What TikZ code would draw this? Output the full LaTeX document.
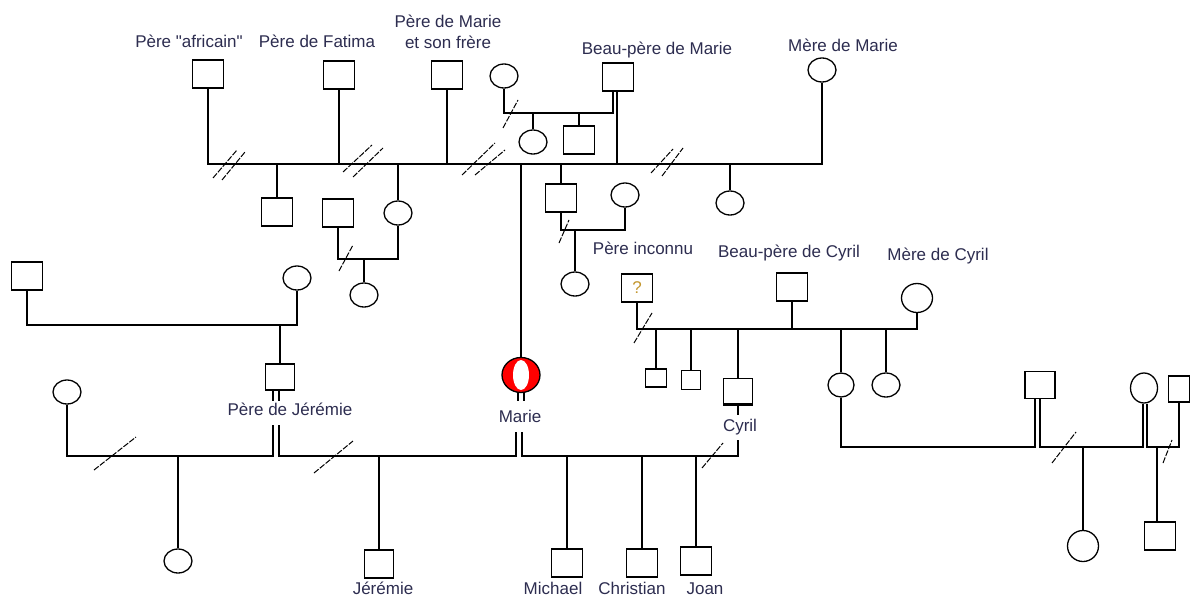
\documentclass[tikz,border=0pt]{standalone}
\usepackage{fontspec}
\newfontfamily\labfont{Liberation Sans}
\usetikzlibrary{shapes.geometric,calc}
\definecolor{txt}{RGB}{45,45,80}
\definecolor{qcol}{RGB}{195,150,45}
\begin{document}
\begin{tikzpicture}[x=1pt,y=-1pt,
  rel/.style={line width=1.5pt},
  male/.style={draw, rectangle, line width=1.5pt, minimum width=31pt, minimum height=28pt, inner sep=0pt},
  female/.style={draw, ellipse, line width=1.3pt, minimum width=28pt, minimum height=24pt, inner sep=0pt},
  lbl/.style={text=txt, font={\labfont\fontsize{17}{21}\selectfont}, inner sep=0pt, align=center, text height=13pt, text depth=4pt},
  cut/.style={line width=1pt, dash pattern=on 6pt off 1.5pt}]
\useasboundingbox (0,0) rectangle (1190,597);
\fill[white] (0,0) rectangle (1190,597);

% ---------- top generation ----------
\node[male] (afr) at (208,74) {};
\node[male] (fat) at (339,75) {};
\node[male] (pm) at (447,75) {};
\node[female] (ex) at (504,76) {};
\node[male] (bpm) at (618,77) {};
\node[female] (mm) at (822,70) {};
\node[female] (hs1) at (533,142) {};
\node[male] (hs2) at (579,140) {};

\node[lbl] (Lafr) at (189,43) {Père "africain"};
\node[lbl] (Lfat) at (317,43) {Père de Fatima};
\node[lbl, text height=, text depth=] (Lpm) at (448,32) {Père de Marie\\et son frère};
\node[lbl] (Lbpm) at (657,50) {Beau-père de Marie};
\node[lbl] (Lmm) at (843,47) {Mère de Marie};

\coordinate (bar) at (0,164);
\coordinate (sub) at (0,113);
\draw[rel] (afr.south) -- (afr.south |- bar) -- (mm.south |- bar) -- (mm.south);
\draw[rel] (fat.south) -- (fat.south |- bar);
\draw[rel] (pm.south) -- (pm.south |- bar);
\draw[rel] (ex.south) -- (ex.south |- sub) -- ([xshift=-5pt]bpm.south |- sub) -- ([xshift=-5pt]bpm.south);
\draw[rel] ([xshift=-1pt]bpm.south) -- ([xshift=-1pt]bpm.south |- bar);
\draw[rel] (hs1.north |- sub) -- (hs1.north);
\draw[rel] (hs2.north |- sub) -- (hs2.north);
\draw[cut] (503,128) -- (518,100);

% double slashes on main line
\draw[cut] (213,178) -- (237,150); \draw[cut] (222,180) -- (245,152);
\draw[cut] (343,172) -- (372,145); \draw[cut] (353,177) -- (383,148);
\draw[cut] (462,175) -- (495,143); \draw[cut] (475,175) -- (505,150);
\draw[cut] (651,173) -- (673,149); \draw[cut] (662,176) -- (683,148);

% ---------- second generation ----------
\node[male] (c1) at (277,212) {};
\node[female] (c2) at (398,213) {};
\node[male] (c3) at (561,198) {};
\node[female] (c4) at (730,203) {};
\node[male] (pb) at (338,213) {};
\node[female] (c2k) at (364,295) {};
\node[female] (c3w) at (625,195) {};
\node[female] (c3k) at (575,284) {};
\node[female, fill=red, minimum width=38pt, minimum height=35pt] (marie) at (521,375) {};
\fill[white] (marie.center) ellipse (8 and 15);

\draw[rel] (c1.north |- bar) -- (c1.north);
\draw[rel] (c2.north |- bar) -- (c2.north);
\draw[rel] (c3.north |- bar) -- (c3.north);
\draw[rel] (c4.north |- bar) -- (c4.north);
\draw[rel] (marie.north |- bar) -- (marie.north);

\coordinate (pbar) at (0,259);
\draw[rel] (pb.south) -- (pb.south |- pbar) -- (c2.south |- pbar) -- (c2.south);
\draw[rel] (c2k.north |- pbar) -- (c2k.north);
\draw[cut] (339,271) -- (353,245);

\coordinate (c3bar) at (0,230);
\draw[rel] (c3.south) -- (c3.south |- c3bar) -- (c3w.south |- c3bar) -- (c3w.south);
\draw[rel] (c3k.north |- c3bar) -- (c3k.north);
\draw[cut] (559,243) -- (569,220);
\node[lbl] (Lpi) at (643,250) {Père inconnu};

% ---------- Cyril's family ----------
\node[male] (qb) at (637,288) {\textcolor{qcol}{\labfont\fontsize{17}{19}\selectfont ?}};
\node[male] (bpc) at (792,287) {};
\node[female, minimum width=31pt, minimum height=29pt] (mc) at (917,298) {};
\node[lbl] (Lbpc) at (789,253) {Beau-père de Cyril};
\node[lbl] (Lmc) at (938,256) {Mère de Cyril};
\coordinate (cbar) at (0,329);
\draw[rel] (qb.south) -- (qb.south |- cbar) -- (mc.south |- cbar) -- (mc.south);
\draw[rel] (bpc.south) -- (bpc.south |- cbar);
\draw[cut] (634,343) -- (652,313);

\node[male, minimum width=21pt, minimum height=18pt] (s1) at (656,378) {};
\node[male, minimum width=19pt, minimum height=19pt] (s2) at (691,380) {};
\node[male, minimum width=29pt, minimum height=25pt] (cy) at (738,391) {};
\draw[line width=3.5pt] (cy.south west) -- (cy.south east);
\node[female, minimum width=26pt] (f1) at (841,385) {};
\node[female] (f2) at (886,385) {};
\draw[rel] (s1.north |- cbar) -- (s1.north);
\draw[rel] (s2.north |- cbar) -- (s2.north);
\draw[rel] (cy.north |- cbar) -- (cy.north);
\draw[rel] (f1.north |- cbar) -- (f1.north);
\draw[rel] (f2.north |- cbar) -- (f2.north);

\node[lbl] (Lcy) at (740,427) {Cyril};
\coordinate (cyt) at (738,415);
\coordinate (cyb) at (738,440);
\draw[rel] (cy.south) -- (cyt);

% ---------- Père de Jérémie ----------
\node[male] (gp) at (27,276) {};
\node[female] (gpw) at (297,278) {};
\coordinate (gbar) at (0,325);
\draw[rel] (gp.south) -- (gp.south |- gbar) -- (gpw.south |- gbar) -- (gpw.south);
\node[male, minimum width=29pt, minimum height=26pt] (pj) at (280,377) {};
\draw[rel] (pj.north |- gbar) -- (pj.north);
\node[lbl] (Lpj) at (290,411) {Père de Jérémie};
\draw[rel] ([xshift=-7pt]pj.south) -- ++(0,10);
\draw[rel] ([xshift=-1pt]pj.south) -- ++(0,10);
\draw[rel] ([xshift=-3pt]marie.south) -- ++(0,8);
\draw[rel] ([xshift=3pt]marie.south) -- ++(0,8);
\node[lbl] (Lma) at (520,418) {Marie};

% ---------- bottom generation ----------
\coordinate (lbar) at (0,456);
\coordinate (pjl) at (273,425);
\coordinate (pjr) at (279,425);
\coordinate (mal) at (516,432);
\coordinate (mar) at (522,432);
\node[female] (lw) at (67,392) {};
\node[female] (lk) at (178,561) {};
\node[male, minimum width=29pt] (jer) at (379,564) {};
\node[male] (mic) at (567,563) {};
\node[male] (chr) at (642,563) {};
\node[male] (joa) at (696,561) {};

\draw[rel] (lw.south) -- (lw.south |- lbar) -- (pjl |- lbar) -- (pjl);
\draw[rel] (pjr) -- (pjr |- lbar) -- (mal |- lbar) -- (mal);
\draw[rel] (mar) -- (mar |- lbar) -- (cyb |- lbar) -- (cyb);
\draw[rel] (lk.north |- lbar) -- (lk.north);
\draw[rel] (jer.north |- lbar) -- (jer.north);
\draw[rel] (mic.north |- lbar) -- (mic.north);
\draw[rel] (chr.north |- lbar) -- (chr.north);
\draw[rel] (joa.north |- lbar) -- (joa.north);
\draw[cut] (94,470) -- (136,437);
\draw[cut] (314,473) -- (353,441);
\draw[cut] (702,468) -- (723,443);

\node[lbl] (Ljer) at (383,590) {Jérémie};
\node[lbl] (Lmic) at (553,590) {Michael};
\node[lbl] (Lchr) at (632,590) {Christian};
\node[lbl] (Ljoa) at (705,590) {Joan};

% ---------- right family ----------
\node[male, minimum width=30pt, minimum height=27pt] (rb) at (1040,385) {};
\node[female, minimum width=27pt, minimum height=30pt] (rc) at (1144,388) {};
\node[male, minimum width=21pt, minimum height=26pt] (rs) at (1179,389) {};
\node[female, minimum width=31pt, minimum height=31pt] (rk) at (1083,546) {};
\node[male] (rk2) at (1160,536) {};
\coordinate (rbar) at (0,447);
\draw[rel] (f1.south) -- (f1.south |- rbar) -- ([xshift=-5pt]rb.south |- rbar) -- ([xshift=-5pt]rb.south);
\draw[rel] (rb.south) -- (rb.south |- rbar) -- ([xshift=-1pt]rc.south |- rbar) -- ([xshift=-1pt]rc.south);
\draw[rel] ([xshift=3pt]rc.south) -- ([xshift=3pt]rc.south |- rbar) -- (rs.south |- rbar) -- (rs.south);
\draw[rel] (rk.north |- rbar) -- (rk.north);
\draw[rel] ([xshift=-3pt]rk2.north |- rbar) -- ([xshift=-3pt]rk2.north);
\draw[cut] (1052,463) -- (1076,432);
\draw[cut] (1163,463) -- (1172,440);
\end{tikzpicture}
\end{document}
